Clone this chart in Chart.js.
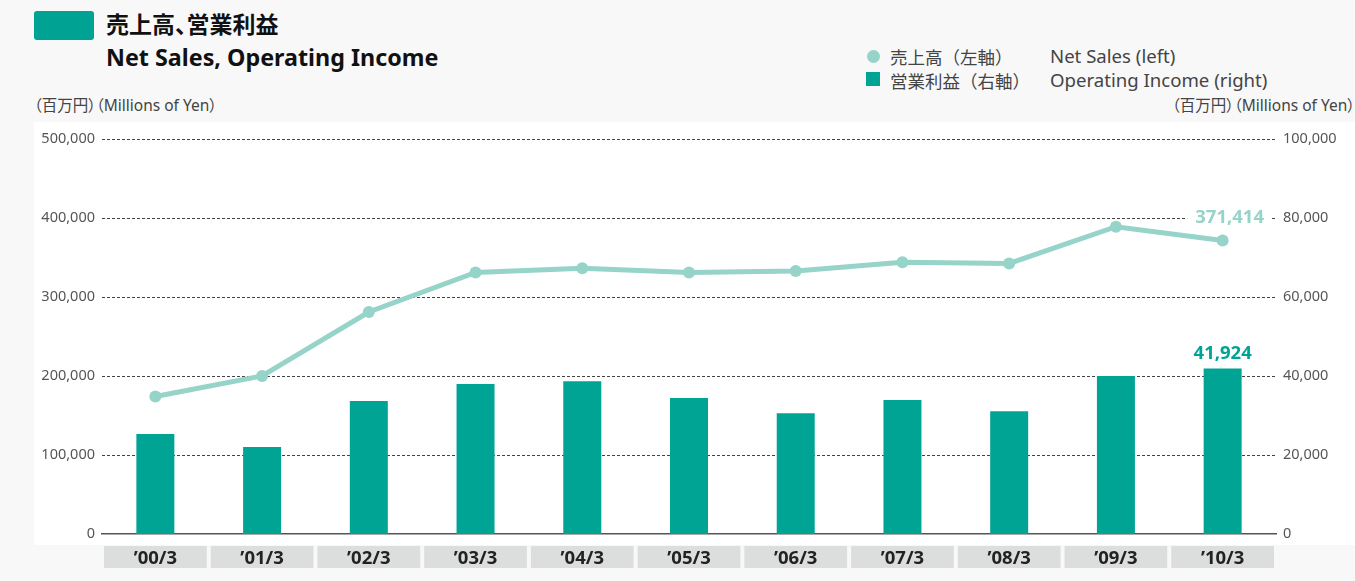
<!DOCTYPE html>
<html>
<head>
<meta charset="utf-8">
<script src="https://cdn.jsdelivr.net/npm/chart.js@4.4.1/dist/chart.umd.min.js"></script>
<style>
  html, body { margin: 0; padding: 0; }
  body { width: 1355px; height: 581px; background: #f8f8f8; position: relative; overflow: hidden;
         font-family: "Noto Sans", "Noto Sans CJK JP", sans-serif; color: #444; }
  .panel { position: absolute; left: 34px; top: 122px; width: 1321px; height: 423px; background: #fff; }
  #chart { position: absolute; left: 0; top: 0; }
  .mark { position: absolute; left: 34px; top: 11px; width: 60px; height: 29px; background: #00a393; border-radius: 3px; }
  .t1 { position: absolute; left: 106px; top: 6px; font: bold 23px "Noto Sans CJK JP", sans-serif; color: #111; }
  .t1 span { font-feature-settings: "palt"; }
  .t2 { position: absolute; left: 106px; top: 41px; font: bold 23.3px "Noto Sans", sans-serif; color: #111; }
  .unit { position: absolute; font-size: 15.5px; color: #444; top: 93px; font-feature-settings: "palt";
          font-family: "Noto Sans", "Noto Sans CJK JP", sans-serif; }
  .lg { position: absolute; color: #444; white-space: nowrap; }
  .jp { font: 17.5px "Noto Sans CJK JP", sans-serif; }
  .en { font: 18.6px "Noto Sans", sans-serif; }
  .dot { position: absolute; left: 867px; top: 50px; width: 13px; height: 13px; border-radius: 50%; background: #96d3c8; }
  .sq { position: absolute; left: 866px; top: 72px; width: 14px; height: 14px; background: #00a495; }
</style>
</head>
<body>
<div class="panel"></div>
<div class="mark"></div>
<div class="t1">売上高<span>、</span>営業利益</div>
<div class="t2">Net Sales, Operating Income</div>
<div class="unit" style="left:34px">（百万円）（Millions of Yen）</div>
<div class="unit" style="right:0">（百万円）（Millions of Yen）</div>
<div class="dot"></div>
<div class="sq"></div>
<div class="lg jp" style="left:890px; top:44px">売上高（左軸）</div>
<div class="lg jp" style="left:890px; top:68px">営業利益（右軸）</div>
<div class="lg en" style="left:1050px; top:43px">Net Sales (left)</div>
<div class="lg en" style="left:1050px; top:67px">Operating Income (right)</div>
<canvas id="chart" width="1355" height="581"></canvas>
<script>
// Data (millions of yen)
const years = ['’00/3', '’01/3', '’02/3', '’03/3', '’04/3', '’05/3', '’06/3', '’07/3', '’08/3', '’09/3', '’10/3'];
const netSales = [174000, 200000, 281000, 331000, 336500, 331000, 333000, 344000, 342500, 389000, 371414];
const operatingIncome = [25300, 22000, 33700, 38000, 38700, 34400, 30600, 33900, 31100, 40000, 41924];
const leftTicks = [0, 100000, 200000, 300000, 400000, 500000];
const rightTicks = [0, 20000, 40000, 60000, 80000, 100000];

const lineColor = '#96d3c8';
const barColor = '#00a495';

// Grey label boxes under each category
const categoryBoxes = {
    id: 'categoryBoxes',
    beforeDraw(chart) {
        const { ctx, scales: { x }, chartArea } = chart;
        const half = x.width / years.length / 2;
        ctx.save();
        ctx.fillStyle = '#dcdddd';
        years.forEach((_, i) => {
            const cx = x.getPixelForValue(i);
            ctx.fillRect(cx - half + 2, chartArea.bottom + 12, half * 2 - 4, 22);
        });
        ctx.restore();
    }
};

// Value labels for the last year
const lastLabels = {
    id: 'lastLabels',
    afterDatasetsDraw(chart) {
        const { ctx } = chart;
        const i = years.length - 1;
        const pt = chart.getDatasetMeta(0).data[i];
        const bar = chart.getDatasetMeta(1).data[i];
        ctx.save();
        ctx.font = 'bold 18.5px "Noto Sans", sans-serif';
        ctx.textAlign = 'center';
        ctx.textBaseline = 'middle';

        const t1 = netSales[i].toLocaleString('en-US');
        const w1 = ctx.measureText(t1).width;
        const lx = pt.x + 7, ly = pt.y - 23;
        ctx.fillStyle = '#fff';
        ctx.fillRect(lx - w1 / 2 - 8, ly - 10, w1 + 16, 20);
        ctx.fillStyle = lineColor;
        ctx.fillText(t1, lx, ly);

        ctx.fillStyle = barColor;
        ctx.fillText(operatingIncome[i].toLocaleString('en-US'), bar.x, bar.y - 15);
        ctx.restore();
    }
};

const tickFont = { family: '"Noto Sans", sans-serif', size: 14.5 };

new Chart(document.getElementById('chart'), {
    type: 'bar',
    data: {
        labels: years,
        datasets: [{
            type: 'line',
            label: '売上高（左軸）',
            data: netSales,
            yAxisID: 'y',
            borderColor: lineColor,
            backgroundColor: lineColor,
            borderWidth: 5,
            pointRadius: 6,
            pointBorderWidth: 0,
            pointBackgroundColor: lineColor,
            tension: 0,
            order: 1
        }, {
            type: 'bar',
            label: '営業利益（右軸）',
            data: operatingIncome,
            yAxisID: 'y1',
            backgroundColor: barColor,
            categoryPercentage: 1,
            barPercentage: 0.356,
            order: 2
        }]
    },
    options: {
        responsive: false,
        animation: false,
        layout: { padding: { top: 139, left: 0, right: 0, bottom: 0 } },
        plugins: {
            legend: { display: false },
            tooltip: { enabled: false }
        },
        scales: {
            x: {
                grid: { display: false, drawTicks: false },
                border: { display: true, color: '#555', width: 1.5 },
                ticks: {
                    padding: 14,
                    color: '#222',
                    font: { family: '"Noto Sans", sans-serif', size: 18.5, weight: 'bold' }
                },
                afterFit: s => { s.height = 47; }
            },
            y: {
                position: 'left',
                min: 0,
                max: 500000,
                afterBuildTicks: s => { s.ticks = leftTicks.map(v => ({ value: v })); },
                grid: {
                    drawTicks: false,
                    color: c => c.tick.value === 0 ? 'rgba(0,0,0,0)' : '#444',
                    lineWidth: 1
                },
                border: { display: false, dash: [3, 2] },
                ticks: {
                    padding: 7,
                    color: '#555',
                    font: tickFont,
                    callback: v => v.toLocaleString('en-US')
                },
                afterFit: s => { s.width = 102; }
            },
            y1: {
                position: 'right',
                min: 0,
                max: 100000,
                afterBuildTicks: s => { s.ticks = rightTicks.map(v => ({ value: v })); },
                grid: { display: false, drawTicks: false },
                border: { display: false },
                ticks: {
                    padding: 7,
                    color: '#555',
                    font: tickFont,
                    callback: v => v.toLocaleString('en-US')
                },
                afterFit: s => { s.width = 79; }
            }
        }
    },
    plugins: [categoryBoxes, lastLabels]
});
</script>
</body>
</html>
